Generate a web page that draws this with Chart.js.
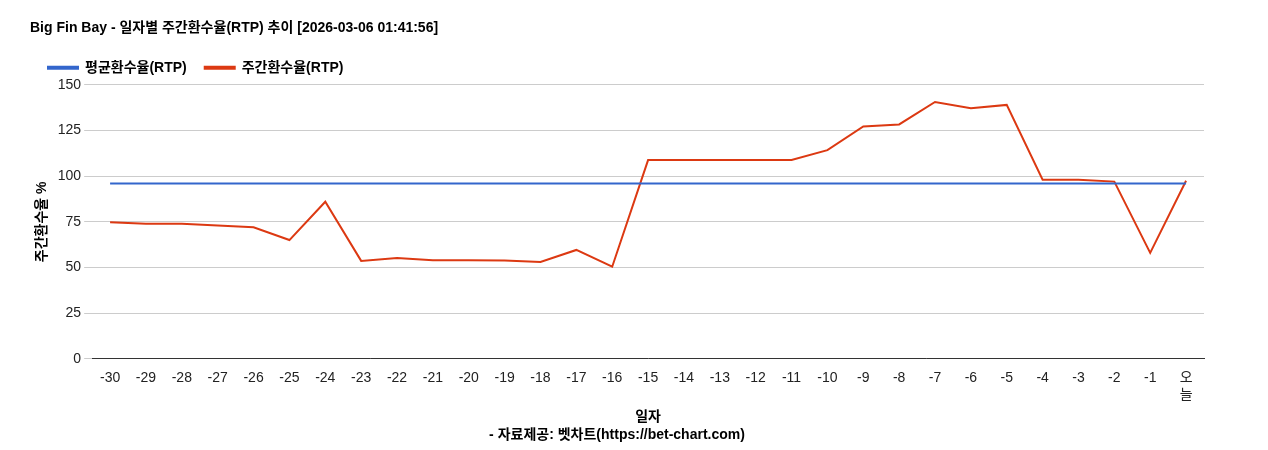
<!DOCTYPE html>
<html><head><meta charset="utf-8">
<script src="https://cdn.jsdelivr.net/npm/chart.js@4"></script>
<style>body{margin:0;background:#fff}#w{width:1268px;height:450px}</style>
</head><body><div id="w"><canvas id="c"></canvas></div>
<script>
const labels = ['-30','-29','-28','-27','-26','-25','-24','-23','-22','-21','-20','-19','-18','-17','-16','-15','-14','-13','-12','-11','-10','-9','-8','-7','-6','-5','-4','-3','-2','-1',['오','늘']];
const weeklyRtp = [74.7,74,74,73,72,65,86,53.6,55.2,54,54,53.8,53,59.6,50.4,108.8,108.8,108.8,108.8,108.8,114.2,127.2,128.3,140.6,137.2,139,98,98,97,58,97.5];
const avgRtp = labels.map(() => 96);
const F = "'Liberation Sans','Noto Sans CJK KR',sans-serif";
Chart.defaults.font.family = F;
Chart.defaults.color = '#222';
new Chart(document.getElementById('c'), {
  type: 'line',
  data: { labels, datasets: [
    { label: '평균환수율(RTP)', data: avgRtp, borderColor: '#3366cc', backgroundColor: '#3366cc', borderWidth: 2, pointRadius: 0, tension: 0 },
    { label: '주간환수율(RTP)', data: weeklyRtp, borderColor: '#dc3912', backgroundColor: '#dc3912', borderWidth: 2, pointRadius: 0, tension: 0 }
  ]},
  options: {
    responsive: true, maintainAspectRatio: false, animation: false,
    layout: { padding: { left: 30, right: 64, top: 20, bottom: 6 } },
    plugins: {
      title: { display: true, text: 'Big Fin Bay - 일자별 주간환수율(RTP) 추이 [2026-03-06 01:41:56]', align: 'start', font: { size: 14, weight: 'bold' }, color: '#000', padding: { bottom: 6 } },
      subtitle: { display: true, position: 'bottom', text: '- 자료제공: 벳차트(https://bet-chart.com)', font: { size: 14, weight: 'bold' }, color: '#000', padding: { top: 0 } },
      legend: { align: 'start', labels: { boxWidth: 30, boxHeight: 2, padding: 18, font: { size: 14, weight: 'bold' }, color: '#000' } },
      tooltip: { enabled: false }
    },
    scales: {
      x: { offset: true, grid: { display: false }, border: { color: '#333' }, ticks: { font: { size: 14 }, color: '#222', maxRotation: 0, autoSkip: false },
           title: { display: true, text: '일자', font: { size: 14, weight: 'bold' }, color: '#000', padding: { top: 2, bottom: 2 } } },
      y: { min: 0, max: 150, ticks: { stepSize: 25, font: { size: 14 }, color: '#222' }, grid: { color: '#ccc' }, border: { display: false },
           title: { display: true, text: '주간환수율 %', font: { size: 14, weight: 'bold' }, color: '#000' } }
    }
  }
});
</script></body></html>
